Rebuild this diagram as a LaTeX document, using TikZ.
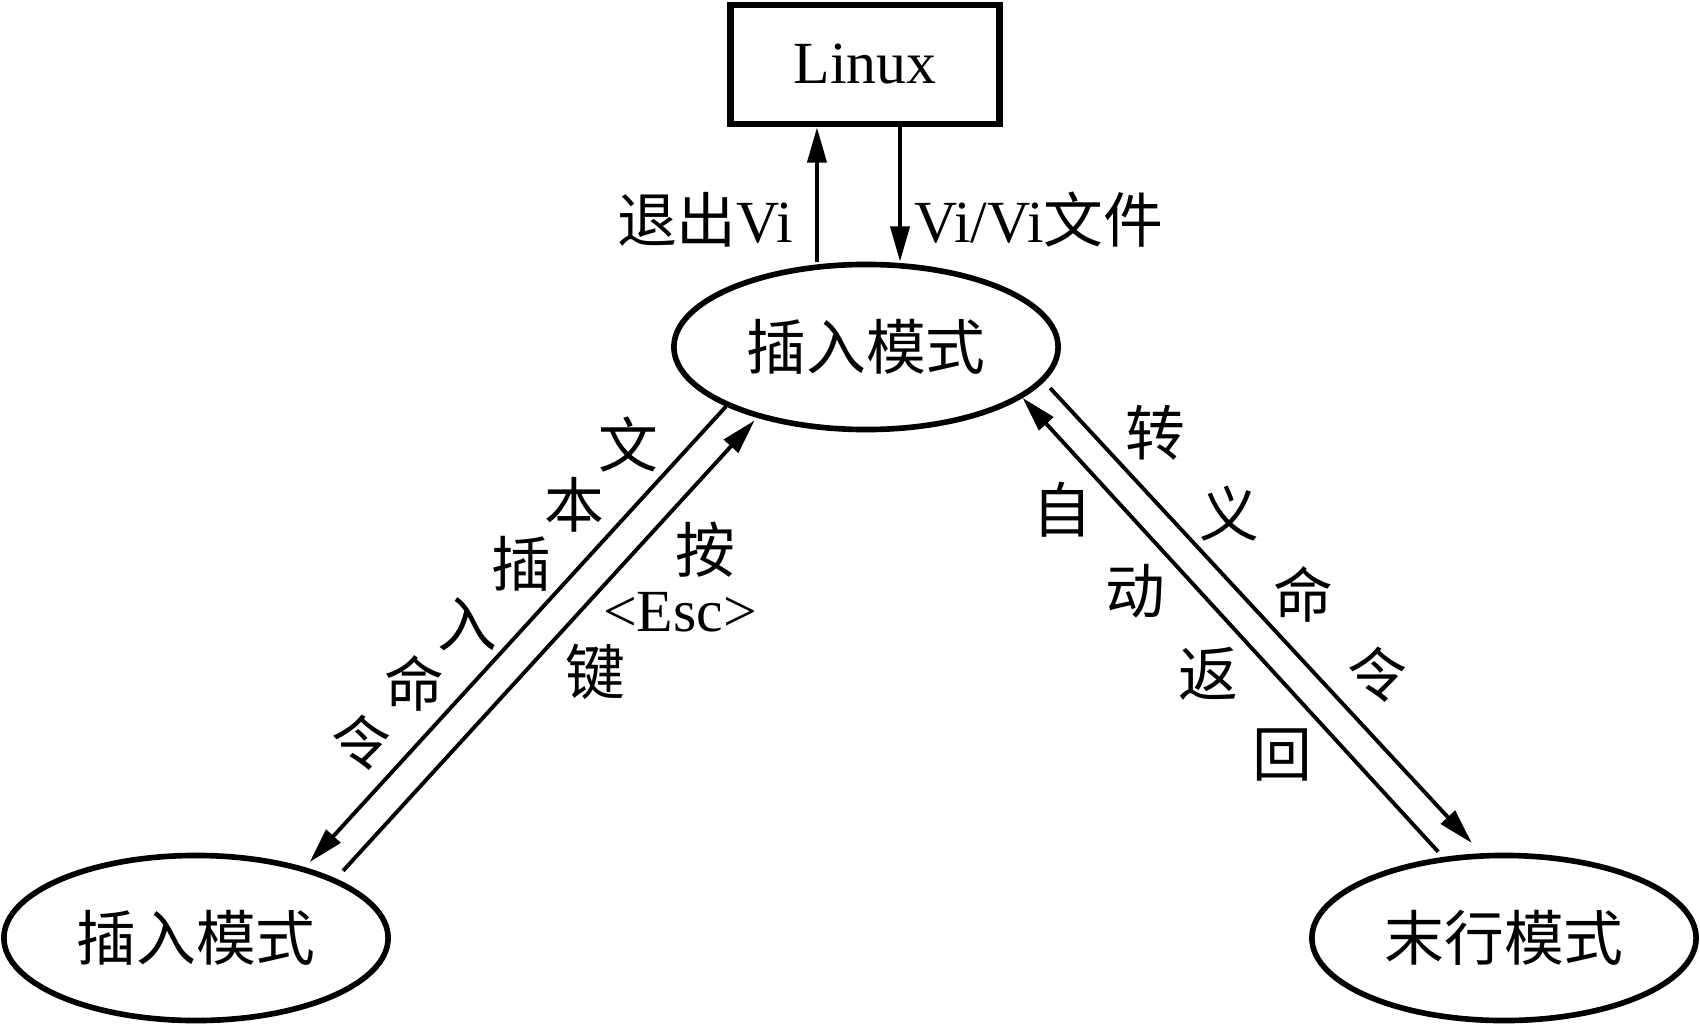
\documentclass[tikz,border=0pt]{standalone}
\usepackage{fontspec}
\setmainfont{Liberation Serif}
\newfontfamily\cjk{Noto Sans CJK SC}
\usetikzlibrary{shapes.geometric,arrows.meta}

\begin{document}
\begin{tikzpicture}[x=0.01cm,y=-0.01cm]
    \tikzstyle{every node}=[font=\fontsize{17}{20}\selectfont]
    \tikzstyle{mode}=[ellipse,draw,line width=1.6pt,minimum width=3.84cm,minimum height=1.65cm,inner sep=0pt,font=\fontsize{17}{20}\selectfont\cjk]
    \tikzstyle{arr}=[line width=1.1pt,-{Triangle[length=10pt,width=5.4pt]}]
    \tikzstyle{ch}=[inner sep=0pt,font=\fontsize{17}{20}\selectfont\cjk]
    \useasboundingbox (0,0) rectangle (1700,1027);
    % nodes
    \node[draw,line width=1.9pt,minimum width=2.69cm,minimum height=1.19cm] (linux) at (865,64.5) {Linux};
    \node[mode] (cmd) at (866,347) {插入模式};
    \node[mode] (ins) at (196,938) {插入模式};
    \node[mode] (last) at (1504,938) {末行模式};
    % Linux <-> vi
    \draw[arr] ([xshift=-0.49cm]cmd.north) -- ([xshift=-0.49cm]cmd.north |- linux.south);
    \draw[arr] ([xshift=0.34cm]cmd.north |- linux.south) -- ([xshift=0.34cm]cmd.north);
    \node (quit) at (705,220) {{\cjk 退出}Vi};
    \node (open) at (1039,220) {Vi/Vi{\cjk 文件}};
    % left pair
    \draw[arr,shorten >=2pt] (cmd.203.1) -- (ins.33.6);
    \draw[arr,shorten <=3pt,shorten >=1pt] (ins.23.5) -- (cmd.213.2);
    \foreach \c [count=\i from 0] in {令,命,入,插,本,文}
      \node[ch] (insch\i) at ({361+53.4*\i},{743-59.6*\i}) {\c};
    \node[ch] (press) at (705,550) {按};
    \node (esc) at (680,612) {<Esc>};
    \node[ch] (key) at (595,672) {键};
    % right pair
    \draw[arr,shorten <=2.5pt,shorten >=4pt] (cmd.349) -- (last.105.9);
    \draw[arr,shorten <=2pt] (last.127.5) -- (cmd.342);
    \foreach \c [count=\i from 0] in {转,义,命,令}
      \node[ch] (escch\i) at ({1155+74*\i},{433+80.7*\i}) {\c};
    \foreach \c [count=\i from 0] in {自,动,返,回}
      \node[ch] (backch\i) at ({1062+73.3*\i},{510+81.7*\i}) {\c};
\end{tikzpicture}
\end{document}
